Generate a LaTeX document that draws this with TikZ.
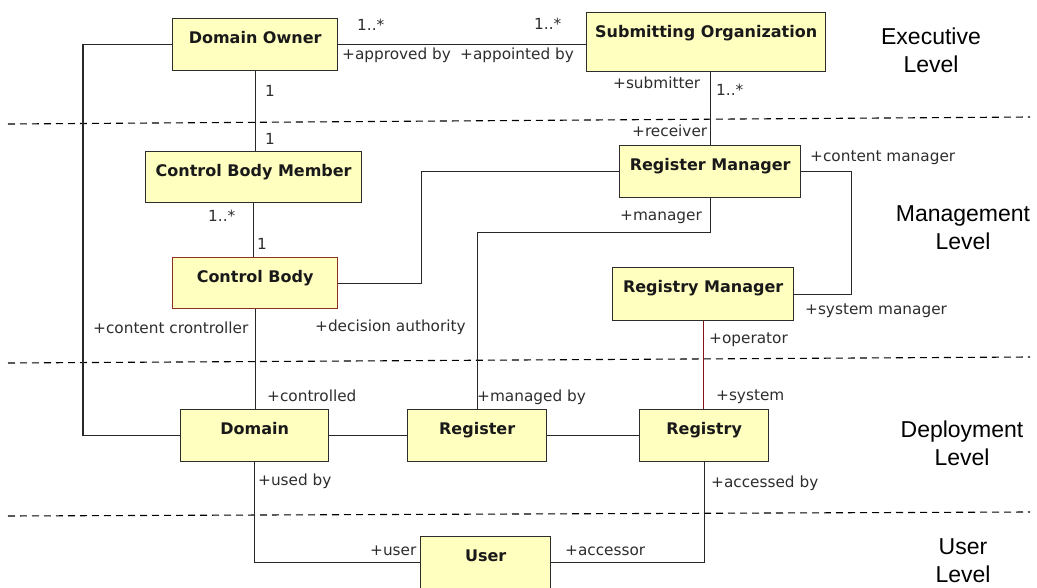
\documentclass[tikz,border=0pt]{standalone}
\usepackage{fontspec}
\setmainfont{DejaVu Sans}
\newfontfamily\levelfont{Liberation Sans}
\definecolor{boxfill}{RGB}{255,255,192}
\definecolor{boxline}{RGB}{45,45,45}
\definecolor{cbline}{RGB}{140,50,30}
\definecolor{redline}{RGB}{130,20,20}
\definecolor{conn}{RGB}{40,40,40}
\definecolor{lbl}{RGB}{45,45,45}
\tikzset{
  box/.style={draw=boxline, fill=boxfill, line width=1.3pt, inner sep=0pt,
    anchor=north west, text height=24.5pt, text=black!90,
    font=\fontsize{16}{18}\selectfont\bfseries},
  conline/.style={draw=conn, line width=1.2pt},
  role/.style={anchor=base west, inner sep=0pt, text=lbl,
    font=\fontsize{15.3}{17}\selectfont},
  level/.style={align=center, inner sep=0pt,
    font=\fontsize{23}{28}\selectfont\levelfont},
  sep/.style={draw=black, line width=1.1pt, dash pattern=on 7pt off 5pt}
}
\begin{document}
\begin{tikzpicture}[x=1pt,y=-1pt]
\useasboundingbox (0,0) rectangle (1037,588);

% level separators
\draw[sep] (8,124) -- (1030,117);
\draw[sep] (8,363) -- (1030,357);
\draw[sep] (8,516) -- (1030,512);

% boxes
\node[box, minimum width=165pt, text depth=27.5pt] (DO) at (172,18) {Domain Owner};
\node[box, minimum width=239pt, text depth=34.5pt] (SO) at (586,12) {Submitting Organization};
\node[box, minimum width=216pt, text depth=26.5pt] (CBM) at (145,151) {Control Body Member};
\node[box, draw=cbline, minimum width=165pt, text depth=26.5pt] (CB) at (172,257) {Control Body};
\node[box, minimum width=181pt, text depth=27.5pt] (RM) at (619,145) {Register Manager};
\node[box, minimum width=181pt, text depth=28.5pt] (RyM) at (612,267) {Registry Manager};
\node[box, minimum width=148pt, text depth=27.5pt] (Dom) at (180,409) {Domain};
\node[box, minimum width=139pt, text depth=27.5pt] (Reg) at (407,409) {Register};
\node[box, minimum width=129pt, text depth=27.5pt] (Ryy) at (639,409) {Registry};
\node[box, minimum width=130pt, text depth=27.5pt] (User) at (420,536) {User};

% connectors
\draw[conline] (DO.west) -- ++(-89,0) |- (Dom.west);
\draw[conline] (DO.east) -- (DO.east -| SO.west);
\draw[conline] (DO.south) -- (DO.south |- CBM.north);
\draw[conline] (CBM.south) -- (CBM.south |- CB.north);
\draw[conline] (CB.south) -- (CB.south |- Dom.north);
\draw[conline] (CB.east) -- ++(83,0) |- (RM.west);
\draw[conline] (RM.south) -- ++(0,34) -| (Reg.north);
\draw[conline] (RM.east) -- ++(50,0) |- (RyM.east);
\draw[conline, draw=redline] (RyM.south) -- (RyM.south |- Ryy.north);
\draw[conline] (RM.north |- SO.south) -- (RM.north);
\draw[conline] (Dom.east) -- (Reg.west);
\draw[conline] (Reg.east) -- (Ryy.west);
\draw[conline] (Dom.south) |- (User.west);
\draw[conline] (Ryy.south) |- (User.east);

% role / multiplicity labels
\node[role] (m1) at (357,31) {1..*};
\node[role] (r1) at (342,60) {+approved by};
\node[role] (r2) at (460,60) {+appointed by};
\node[role] (m2) at (534,30) {1..*};
\node[role] (r3) at (613,89) {+submitter};
\node[role] (m3) at (716,96) {1..*};
\node[role] (r4) at (632,137) {+receiver};
\node[role] (m4) at (265,97) {1};
\node[role] (m5) at (265,145) {1};
\node[role] (m6) at (208,222) {1..*};
\node[role] (m7) at (257,250) {1};
\node[role] (r5) at (93,334) {+content crontroller};
\node[role] (r6) at (315,332) {+decision authority};
\node[role] (r7) at (267,401) {+controlled};
\node[role] (r8) at (477,401) {+managed by};
\node[role] (r9) at (716,400) {+system};
\node[role] (r10) at (709,344) {+operator};
\node[role] (r11) at (620,221) {+manager};
\node[role] (r12) at (810,162) {+content manager};
\node[role] (r13) at (805,315) {+system manager};
\node[role] (r14) at (258,485) {+used by};
\node[role] (r15) at (711,487) {+accessed by};
\node[role] (r16) at (370,555) {+user};
\node[role] (r17) at (565,555) {+accessor};

% level labels
\node[level] (L1) at (931,50.75) {Executive\\Level};
\node[level] (L2) at (963,227.75) {Management\\Level};
\node[level] (L3) at (962,443.25) {Deployment\\Level};
\node[level] (L4) at (963,560.75) {User\\Level};
\end{tikzpicture}
\end{document}
